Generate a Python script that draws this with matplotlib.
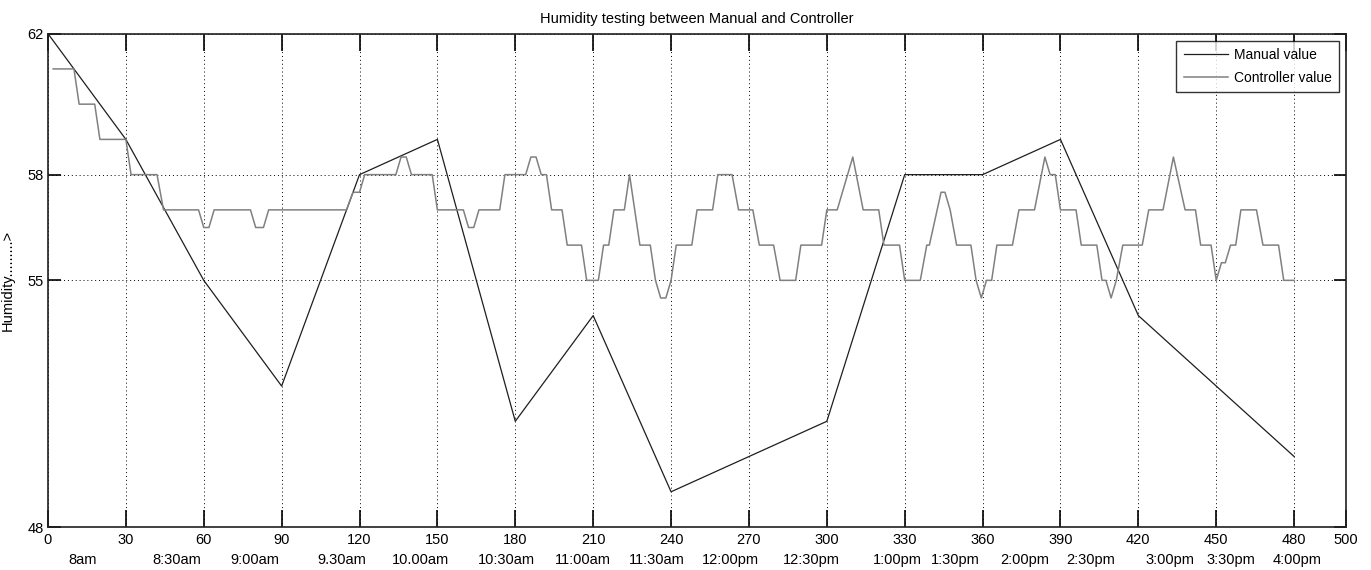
import matplotlib
matplotlib.use("Agg")
import matplotlib.pyplot as plt

plt.rcParams['font.family'] = ['Liberation Sans Narrow', 'Liberation Sans', 'DejaVu Sans']

# manual readings, every 30 minutes
manual_t = [0, 30, 60, 90, 120, 150, 180, 210, 240, 270, 300, 330, 360, 390, 420, 450, 480]
manual_h = [62, 59, 55, 52, 58, 59, 51, 54, 49, 50, 51, 58, 58, 59, 54, 52, 50]

# controller log (minutes, humidity)
ctrl_t = [2, 10, 12, 18, 20, 30, 32, 42, 44.5, 58, 60, 62, 64, 78, 80, 83, 85,
          115, 117.5, 120, 122, 134, 136, 138, 140, 148, 150, 160, 162, 164, 166,
          174, 176, 184, 186, 188, 190, 192, 194, 198, 200, 205.5, 207.5, 212, 214,
          216, 218, 222, 224, 228, 232, 234, 236, 238, 240, 242, 248, 250, 256, 258,
          263.5, 266, 271.5, 274, 279.5, 282, 288, 290, 298, 300, 304, 310, 314,
          320, 322, 328, 330, 336, 338.5, 339.5, 342.5, 344, 345.5, 347.5, 350,
          355.5, 357.5, 359.5, 361.5, 363.5, 365.5, 371.5, 374, 380, 384, 386, 388,
          390, 396, 398, 404, 406, 407.5, 409.5, 411.5, 414, 421.5, 424, 429.5,
          433.5, 438, 442, 444, 448, 450, 452, 453.5, 455.5, 457.5, 459.5, 465.5,
          468, 474, 476, 480]
ctrl_h = [61, 61, 60, 60, 59, 59, 58, 58, 57, 57, 56.5, 56.5, 57, 57, 56.5, 56.5, 57,
          57, 57.5, 57.5, 58, 58, 58.5, 58.5, 58, 58, 57, 57, 56.5, 56.5, 57,
          57, 58, 58, 58.5, 58.5, 58, 58, 57, 57, 56, 56, 55, 55, 56,
          56, 57, 57, 58, 56, 56, 55, 54.5, 54.5, 55, 56, 56, 57, 57, 58,
          58, 57, 57, 56, 56, 55, 55, 56, 56, 57, 57, 58.5, 57,
          57, 56, 56, 55, 55, 56, 56, 57, 57.5, 57.5, 57, 56,
          56, 55, 54.5, 55, 55, 56, 56, 57, 57, 58.5, 58, 58,
          57, 57, 56, 56, 55, 55, 54.5, 55, 56, 56, 57, 57,
          58.5, 57, 57, 56, 56, 55, 55.5, 55.5, 56, 56, 57, 57,
          56, 56, 55, 55]

x_ticks = [0, 30, 60, 90, 120, 150, 180, 210, 240, 270, 300, 330, 360, 390, 420, 450, 480, 500]
y_ticks = [48, 55, 58, 62]

# clock-time labels under the minute ticks
time_pos = [13.4, 49.6, 79.7, 113, 143.3, 176.4, 206.2, 234.5, 262.7, 294.2, 327,
            349.4, 376.3, 401.6, 432, 455.7, 481.2]
time_labels = ['8am', '8:30am', '9:00am', '9.30am', '10.00am', '10:30am', '11:00am',
               '11:30am', '12:00pm', '12:30pm', '1:00pm', '1:30pm', '2:00pm',
               '2:30pm', '3:00pm', '3:30pm', '4:00pm']

fig = plt.figure(figsize=(13.71, 5.70), dpi=100)
ax = fig.add_axes([0.035, 0.0754, 0.9468, 0.8655])

ax.plot(manual_t, manual_h, color='#1e1e1e', linewidth=0.9, label='Manual value')
ax.plot(ctrl_t, ctrl_h, color='#808080', linewidth=1.1, label='Controller value')

ax.set_xlim(0, 500)
ax.set_ylim(48, 62)
ax.set_xticks(x_ticks)
ax.set_yticks(y_ticks)
ax.grid(True, color='black', linestyle=(0, (1, 3)), linewidth=0.7)
ax.tick_params(axis='x', direction='in', length=12, width=1.2, top=True, labelsize=10.5, pad=4)
ax.tick_params(axis='y', direction='in', length=9, width=1.2, right=True, labelsize=10.5, pad=3)
for s in ax.spines.values():
    s.set_linewidth(1.2)
    s.set_color('#202020')

for p, lab in zip(time_pos, time_labels):
    ax.text(p, -0.067, lab, transform=ax.get_xaxis_transform(), ha='center', va='center',
            fontsize=10.5)

ax.set_ylabel('Humidity.........>', fontsize=10.5)
ax.yaxis.set_label_coords(-0.0254, 0.5)
ax.set_title('Humidity testing between Manual and Controller', fontsize=10.5, pad=8)

leg = ax.legend(loc='upper right', fontsize=10, frameon=True, fancybox=False,
                edgecolor='black', borderpad=0.55, handlelength=3.2, handletextpad=0.4,
                labelspacing=0.6, borderaxespad=0.5)
leg.get_frame().set_linewidth(1.0)

fig.savefig('out.png', dpi=100)
